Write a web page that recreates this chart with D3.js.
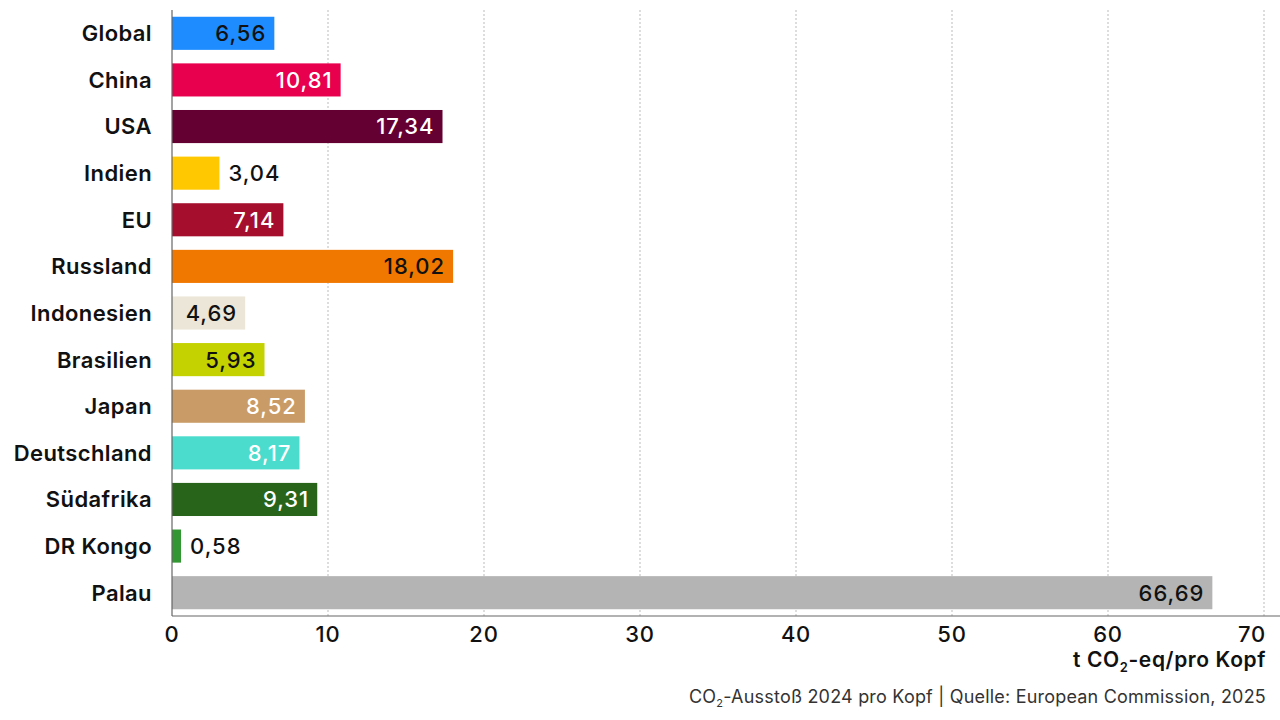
<!DOCTYPE html>
<html><head><meta charset="utf-8">
<script src="https://cdn.jsdelivr.net/npm/d3@7"></script>
<style>
body{margin:0;background:#fff;}
svg{display:block;font-family:Inter, "Noto Sans", sans-serif;}
</style></head><body>
<svg id="c" width="1280" height="720"></svg>
<script>
const categories = ["Global","China","USA","Indien","EU","Russland","Indonesien","Brasilien","Japan","Deutschland","Südafrika","DR Kongo","Palau"];
const values = [6.56,10.81,17.34,3.04,7.14,18.02,4.69,5.93,8.52,8.17,9.31,0.58,66.69];
const colors = ["#1e8cff","#e8004f","#650033","#ffc800","#a50f2d","#f07800","#ebe6d7","#c3d200","#c99b66","#4cdccd","#286419","#329632","#b4b4b4"];
const labelColors = ["#111","#fff","#fff","#111","#fff","#111","#111","#111","#fff","#fff","#fff","#111","#111"];
const ticks = [0,10,20,30,40,50,60,70];

const svg = d3.select("#c");
const x = d3.scaleLinear().domain([0,70]).range([172,1264]);
const y = d3.scaleBand().domain(categories).range([10,616]).paddingInner(0.29).paddingOuter(0.145);
const fmt = v => v.toFixed(2).replace(".", ",");

// gridlines
svg.append("g").selectAll("line").data(ticks.slice(1)).join("line")
  .attr("x1", d=>x(d)).attr("x2", d=>x(d)).attr("y1", 10).attr("y2", 616)
  .attr("stroke", "#bbb").attr("stroke-width", 1).attr("stroke-dasharray", "2,2");

// bars
svg.append("g").selectAll("rect").data(categories).join("rect")
  .attr("x", x(0)).attr("y", d=>y(d)).attr("height", y.bandwidth())
  .attr("width", (d,i)=>x(values[i])-x(0)).attr("fill", (d,i)=>colors[i]);

// axes lines
svg.append("line").attr("x1",172).attr("x2",172).attr("y1",10).attr("y2",616).attr("stroke","#666").attr("stroke-width",1.2);
svg.append("line").attr("x1",172).attr("x2",1280).attr("y1",616).attr("y2",616).attr("stroke","#666").attr("stroke-width",1.2);

// category labels
svg.append("g").selectAll("text").data(categories).join("text")
  .attr("x", 152).attr("y", d=>y(d)+y.bandwidth()/2).attr("dy","0.36em")
  .attr("text-anchor","end").attr("font-size",22).attr("font-weight",600).attr("fill","#111")
  .attr("letter-spacing",0.4)
  .text(d=>d);

// value labels
svg.append("g").selectAll("text").data(categories).join("text")
  .each(function(d,i){
    const inside = values[i] > 4;
    d3.select(this)
      .attr("x", inside ? x(values[i]) - 8 : x(values[i]) + 9)
      .attr("text-anchor", inside ? "end" : "start")
      .attr("fill", labelColors[i]);
  })
  .attr("y", d=>y(d)+y.bandwidth()/2).attr("dy","0.36em")
  .attr("font-size",22).attr("font-weight",500).attr("letter-spacing",1)
  .text((d,i)=>fmt(values[i]));

// x tick labels
svg.append("g").selectAll("text").data(ticks).join("text")
  .attr("x", d=>x(d)).attr("y", 634).attr("dy","0.36em")
  .attr("text-anchor", d=> d===70 ? "end" : "middle")
  .attr("dx", d=> d===70 ? 2 : 0)
  .attr("font-size",22).attr("font-weight",500).attr("fill","#111").attr("letter-spacing",0.8)
  .text(d=>d);

// axis title
const t = svg.append("text").attr("x",1266).attr("y",667).attr("text-anchor","end")
  .attr("font-size",21).attr("font-weight",600).attr("fill","#111").attr("letter-spacing",0.6);
t.append("tspan").text("t CO");
t.append("tspan").attr("font-size",13).attr("dy",5).text("2");
t.append("tspan").attr("dy",-5).text("-eq/pro Kopf");

// footer
const f = svg.append("text").attr("x",1266).attr("y",703).attr("text-anchor","end")
  .attr("font-size",18).attr("font-weight",400).attr("fill","#333").attr("letter-spacing",0.2);
f.append("tspan").text("CO");
f.append("tspan").attr("font-size",11).attr("dy",4).text("2");
f.append("tspan").attr("dy",-4).text("-Ausstoß 2024 pro Kopf | Quelle: European Commission, 2025");
</script>
</body></html>
